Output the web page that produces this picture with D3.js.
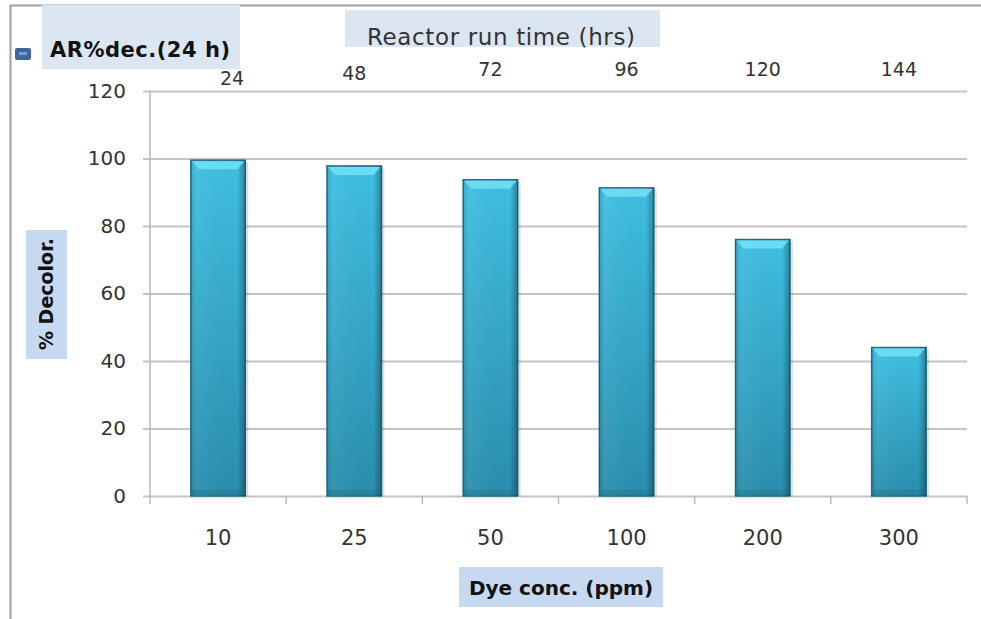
<!DOCTYPE html>
<html><head><meta charset="utf-8">
<script src="https://cdn.jsdelivr.net/npm/d3@7"></script>
<style>body{margin:0;background:#fff}svg{display:block;font-family:"DejaVu Sans",sans-serif}</style>
</head><body><svg id="c" width="981" height="619"></svg>
<script>
const categories = ["10","25","50","100","200","300"];
const topLabels = ["24","48","72","96","120","144"];
const values = [99.5, 97.8, 93.7, 91.3, 76.0, 44.0];
const yTicks = [0,20,40,60,80,100,120];
const seriesName = "AR%dec.(24 h)";

const svg = d3.select("#c");
const m = {l:150, r:967, t:91, b:496};
const x = d3.scaleBand().domain(categories).range([m.l, m.r]).paddingInner(0.6).paddingOuter(0.3);
const xTop = d3.scaleBand().domain(topLabels).range([m.l, m.r]).paddingInner(0.6).paddingOuter(0.3);
const y = d3.scaleLinear().domain([0,120]).range([m.b, m.t]);

// frame
svg.append("line").attr("x1",10.5).attr("x2",10.5).attr("y1",5).attr("y2",619).attr("stroke","#a0a0a0").attr("stroke-width",2);
svg.append("line").attr("x1",10).attr("x2",981).attr("y1",5.5).attr("y2",5.5).attr("stroke","#a0a0a0").attr("stroke-width",2);

const defs = svg.append("defs");
const g1 = defs.append("linearGradient").attr("id","bg").attr("x1",0).attr("x2",0).attr("y1",0).attr("y2",1);
g1.append("stop").attr("offset","0%").attr("stop-color","#3fbfe2");
g1.append("stop").attr("offset","100%").attr("stop-color","#2a8ead");
const g2 = defs.append("linearGradient").attr("id","bh").attr("x1",0).attr("x2",1).attr("y1",0).attr("y2",0);
g2.append("stop").attr("offset","0%").attr("stop-color","#000").attr("stop-opacity",0.12);
g2.append("stop").attr("offset","12%").attr("stop-color","#fff").attr("stop-opacity",0.05);
g2.append("stop").attr("offset","85%").attr("stop-color","#000").attr("stop-opacity",0);
g2.append("stop").attr("offset","100%").attr("stop-color","#000").attr("stop-opacity",0.3);

// y gridlines + axis
const ya = svg.append("g").attr("transform",`translate(${m.l},0)`)
  .call(d3.axisLeft(y).tickValues(yTicks).tickSize(-(m.r-m.l)).tickSizeOuter(0).tickPadding(24));
ya.select(".domain").remove();
ya.selectAll(".tick line").attr("stroke","#c4c4c4").attr("stroke-width",2).attr("x1",-7);
ya.selectAll(".tick text").attr("font-size",20).attr("fill","#333").attr("font-family","DejaVu Sans, sans-serif");
svg.append("line").attr("x1",m.l).attr("x2",m.l).attr("y1",m.t).attr("y2",m.b).attr("stroke","#b8b8b8").attr("stroke-width",1.5);

// bottom axis
const xa = svg.append("g").attr("transform",`translate(0,${m.b})`)
  .call(d3.axisBottom(x).tickSize(0).tickPadding(34));
xa.select(".domain").remove();
xa.selectAll(".tick text").attr("font-size",21).attr("fill","#333").attr("font-family","DejaVu Sans, sans-serif");
const bounds = d3.range(categories.length+1).map(i => m.l + i*(m.r-m.l)/categories.length);
svg.selectAll(".xt").data(bounds).join("line").attr("class","xt")
  .attr("x1",d=>d).attr("x2",d=>d).attr("y1",m.b).attr("y2",m.b+8).attr("stroke","#b8b8b8").attr("stroke-width",1.5);

// top labels
svg.append("g").selectAll("text").data(topLabels).join("text")
  .attr("x",d=>xTop(d)+xTop.bandwidth()/2 + (d==="24"?14:0))
  .attr("y",(d,i)=> i===0 ? 85 : (i===1 ? 80 : 76))
  .attr("text-anchor","middle").attr("font-size",19).attr("fill","#333")
  .attr("font-family","DejaVu Sans, sans-serif").text(d=>d);

// bars
const bars = svg.append("g").selectAll("g").data(values).join("g");
bars.append("rect").attr("x",(d,i)=>x(categories[i])+3).attr("y",d=>y(d)+2)
  .attr("width",x.bandwidth()).attr("height",d=>m.b-y(d)-2).attr("fill","#000").attr("opacity",0.12);
bars.append("rect").attr("x",(d,i)=>x(categories[i])).attr("y",d=>y(d))
  .attr("width",x.bandwidth()).attr("height",d=>m.b-y(d)).attr("fill","url(#bg)")
  .attr("stroke","#1f6d85").attr("stroke-width",1.5);
bars.append("rect").attr("x",(d,i)=>x(categories[i])).attr("y",d=>y(d))
  .attr("width",x.bandwidth()).attr("height",d=>m.b-y(d)).attr("fill","url(#bh)");
bars.append("path").attr("d",(d,i)=>{const x0=x(categories[i]),w=x.bandwidth(),t=y(d);
  return `M${x0+1},${t+1}L${x0+w-1},${t+1}L${x0+w-8},${t+9}L${x0+8},${t+9}Z`;})
  .attr("fill","#72e2f6").attr("opacity",0.85);
bars.append("rect").attr("x",(d,i)=>x(categories[i])+1).attr("y",m.b-6)
  .attr("width",x.bandwidth()-2).attr("height",5).attr("fill","#1f6d85").attr("opacity",0.35);

// legend
svg.append("rect").attr("x",42).attr("y",5).attr("width",198).attr("height",64).attr("fill","#dce6f2");
svg.append("rect").attr("x",15).attr("y",48).attr("width",16).attr("height",12).attr("rx",2).attr("fill","#3d65a0");
svg.append("rect").attr("x",19).attr("y",52).attr("width",8).attr("height",3).attr("fill","#7c9dc8");
svg.append("text").attr("x",50).attr("y",57).attr("font-size",21).attr("font-weight","bold")
  .attr("font-family","DejaVu Sans, sans-serif").attr("fill","#111").attr("textLength",180).text(seriesName);

// top axis title
svg.append("rect").attr("x",345).attr("y",10).attr("width",315).attr("height",37).attr("fill","#dce6f2");
svg.append("text").attr("x",367).attr("y",45).attr("font-size",23)
  .attr("font-family","DejaVu Sans, sans-serif").attr("fill","#333").attr("textLength",268).text("Reactor run time (hrs)");

// y title
svg.append("rect").attr("x",26).attr("y",230).attr("width",41).attr("height",129).attr("fill","#c6d9f0");
svg.append("text").attr("transform","translate(53,294) rotate(-90)").attr("text-anchor","middle")
  .attr("font-size",19).attr("font-weight","bold").attr("font-family","DejaVu Sans, sans-serif")
  .attr("fill","#111").text("% Decolor.");

// x title
svg.append("rect").attr("x",459).attr("y",567).attr("width",204).attr("height",40).attr("fill","#c6d9f0");
svg.append("text").attr("x",561).attr("y",595).attr("text-anchor","middle")
  .attr("font-size",20).attr("font-weight","bold").attr("font-family","DejaVu Sans, sans-serif")
  .attr("fill","#111").text("Dye conc. (ppm)");
</script></body></html>
